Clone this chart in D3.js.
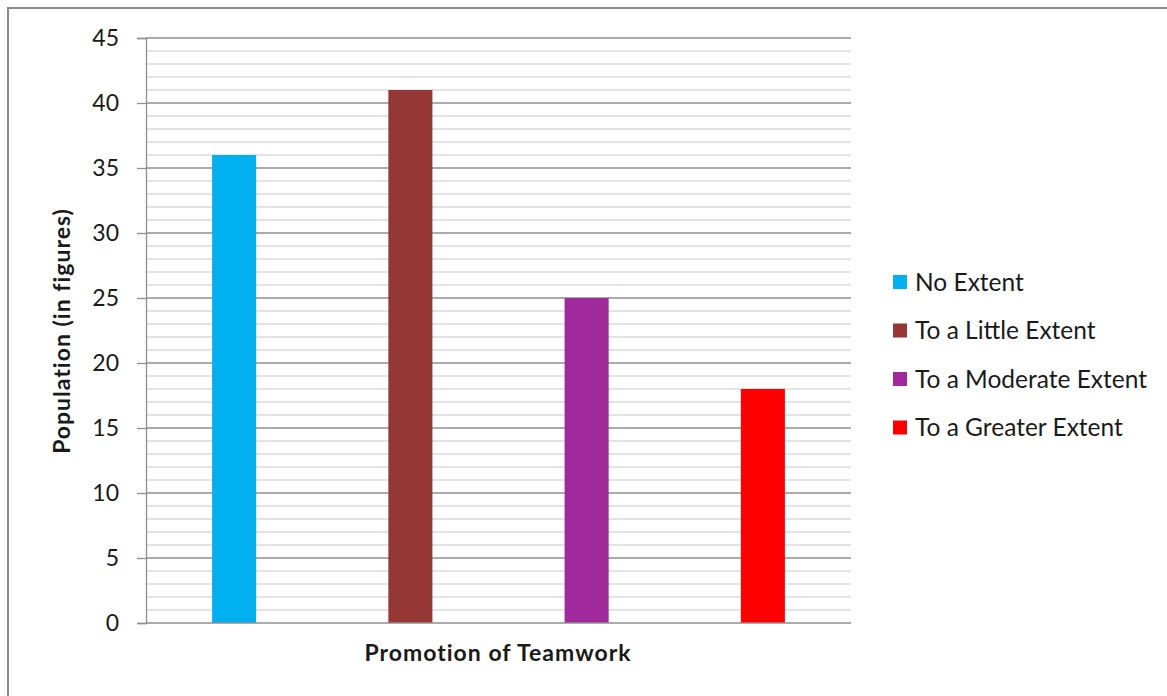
<!DOCTYPE html>
<html>
<head>
<meta charset="utf-8">
<script src="https://cdn.jsdelivr.net/npm/d3@7"></script>
<style>
  html, body { margin: 0; padding: 0; background: #fff; }
  svg { display: block; }
  text { font-family: Lato, "Open Sans", sans-serif; fill: #1a1a1a; }
</style>
</head>
<body>
<svg id="chart" width="1167" height="696"></svg>
<script>
// Responses on promotion of teamwork
const categories = ["No Extent", "To a Little Extent", "To a Moderate Extent", "To a Greater Extent"];
const values = [36, 41, 25, 18];
const colors = ["#00B0F0", "#953735", "#A0299C", "#FF0000"];
const yTicks = [0, 5, 10, 15, 20, 25, 30, 35, 40, 45];
const yTitle = "Population (in figures)";
const xTitle = "Promotion of Teamwork";

const svg = d3.select("#chart");
const W = 1167, H = 696;
const plot = { left: 146, right: 851, top: 38, bottom: 623 };

// outer chart frame (extends past the visible area on right and bottom)
svg.append("rect")
  .attr("x", 8).attr("y", 8)
  .attr("width", W + 20).attr("height", H + 20)
  .attr("fill", "#fff")
  .attr("stroke", "#8c8c8c")
  .attr("stroke-width", 2);

const x = d3.scaleBand().domain(categories).range([plot.left, plot.right]).padding(0);
const y = d3.scaleLinear().domain([0, 45]).range([plot.bottom, plot.top]);

// minor gridlines every unit
const minor = d3.range(1, 45).filter(v => v % 5 !== 0);
svg.append("g").selectAll("line").data(minor).join("line")
  .attr("x1", plot.left).attr("x2", plot.right)
  .attr("y1", d => y(d)).attr("y2", d => y(d))
  .attr("stroke", "#c8c8c8").attr("stroke-width", 1.2);

// major gridlines
svg.append("g").selectAll("line").data(yTicks.filter(v => v > 0)).join("line")
  .attr("x1", plot.left).attr("x2", plot.right)
  .attr("y1", d => y(d)).attr("y2", d => y(d))
  .attr("stroke", "#8f8f8f").attr("stroke-width", 1.3);

// bars, a quarter of each band wide, centred
const bw = x.bandwidth() * 0.25;
svg.append("g").selectAll("rect").data(values).join("rect")
  .attr("x", (d, i) => x(categories[i]) + x.bandwidth() / 2 - bw / 2)
  .attr("y", d => y(d))
  .attr("width", bw)
  .attr("height", d => y(0) - y(d))
  .attr("fill", (d, i) => colors[i]);

// y axis
const yAxis = d3.axisLeft(y).tickValues(yTicks).tickSize(9).tickPadding(18);
const gy = svg.append("g").attr("transform", `translate(${plot.left},0)`).call(yAxis);
gy.select(".domain").attr("stroke", "#8f8f8f").attr("stroke-width", 1.3);
gy.selectAll(".tick line").attr("stroke", "#8f8f8f").attr("stroke-width", 1.3);
gy.selectAll(".tick text")
  .style("font-family", "Lato, 'Open Sans', sans-serif")
  .style("font-size", "23px").attr("fill", "#1a1a1a");

// baseline
svg.append("line")
  .attr("x1", plot.left).attr("x2", plot.right)
  .attr("y1", y(0)).attr("y2", y(0))
  .attr("stroke", "#8f8f8f").attr("stroke-width", 1.5);

// axis titles
svg.append("text")
  .attr("transform", `translate(70, ${(210 + 452) / 2}) rotate(-90)`)
  .attr("text-anchor", "middle")
  .style("font-size", "23px").style("font-weight", "bold")
  .style("letter-spacing", "1px")
  .text(yTitle);

svg.append("text")
  .attr("x", 498).attr("y", 661)
  .attr("text-anchor", "middle")
  .style("font-size", "23px").style("font-weight", "bold")
  .style("letter-spacing", "1px")
  .text(xTitle);

// legend
const legend = svg.append("g").attr("transform", "translate(893, 282)");
const rows = legend.selectAll("g").data(categories).join("g")
  .attr("transform", (d, i) => `translate(0, ${i * 48.5})`);
rows.append("rect")
  .attr("x", 0).attr("y", -7).attr("width", 14).attr("height", 14)
  .attr("fill", (d, i) => colors[i]);
rows.append("text")
  .attr("x", 22).attr("y", 0).attr("dy", "0.35em")
  .style("font-size", "24.5px")
  .text(d => d);
</script>
</body>
</html>
